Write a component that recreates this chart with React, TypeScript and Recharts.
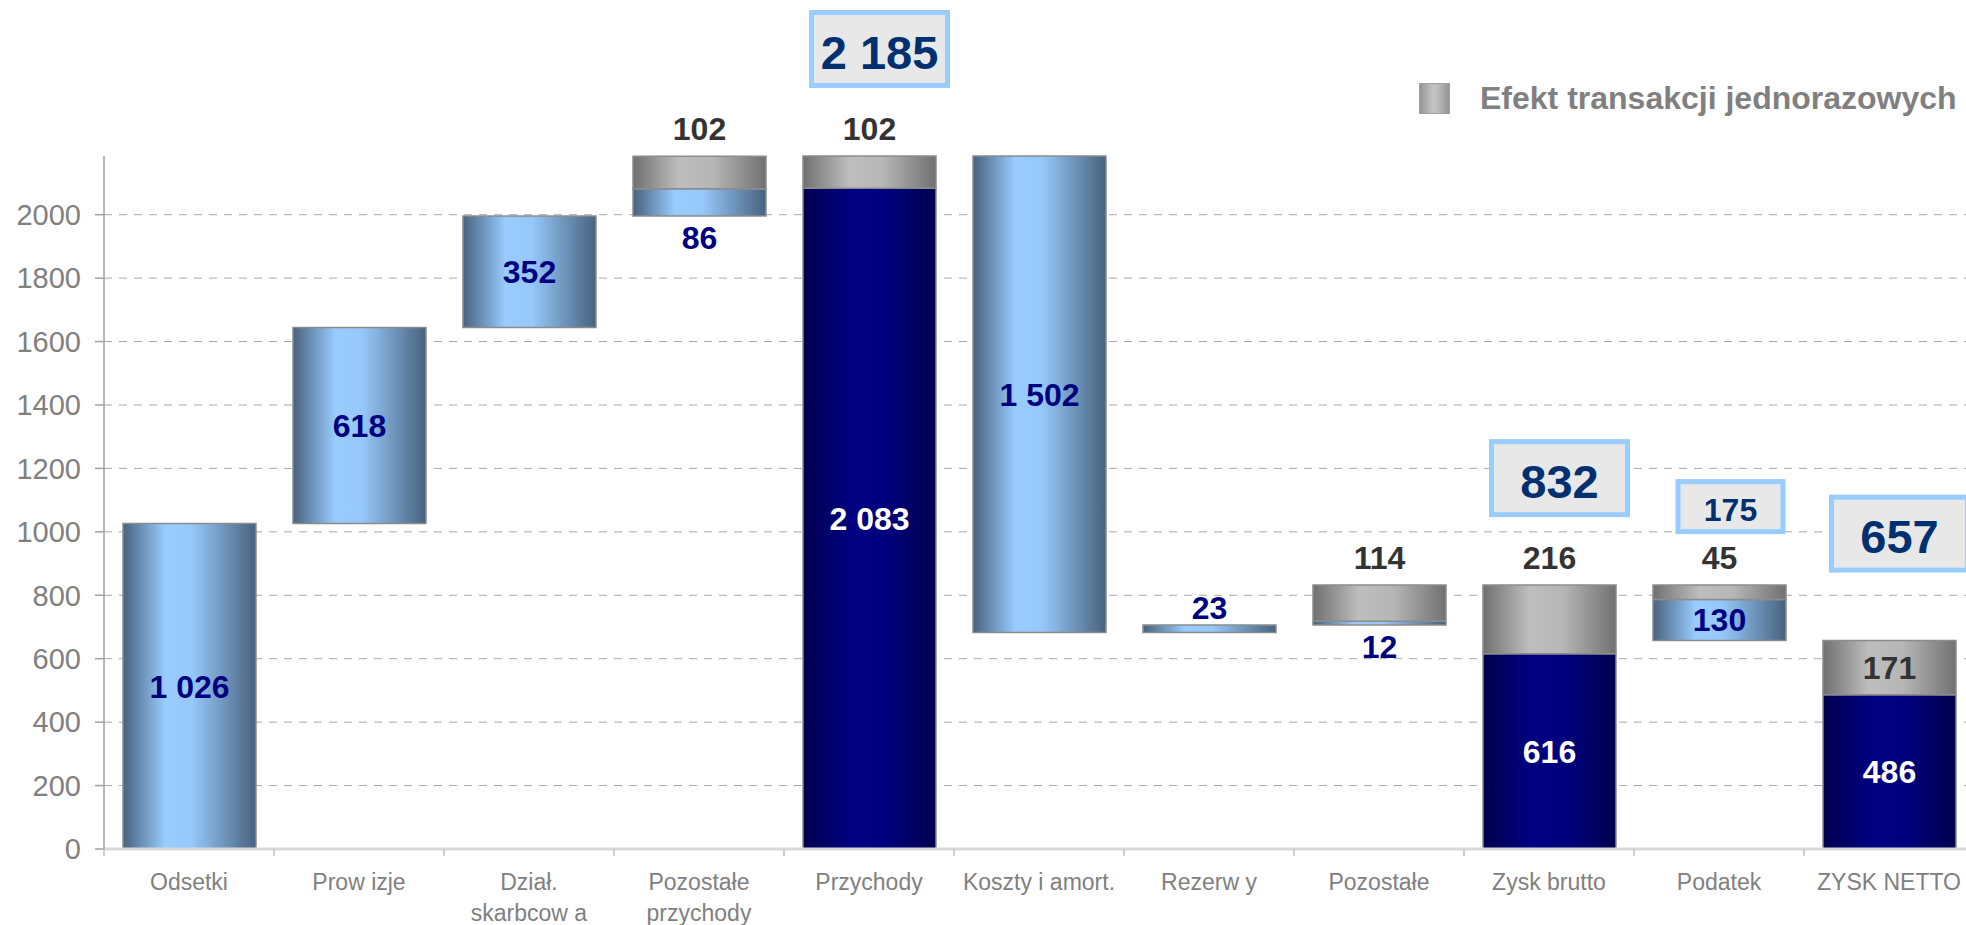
import React from "react";
import { BarChart, Bar, XAxis, YAxis, CartesianGrid, LabelList, Legend } from "recharts";

const categories = [
  "Odsetki",
  "Prow izje",
  "Dział.\nskarbcow a",
  "Pozostałe\nprzychody",
  "Przychody",
  "Koszty i amort.",
  "Rezerw y",
  "Pozostałe",
  "Zysk brutto",
  "Podatek",
  "ZYSK NETTO",
];
const baseValues = [0, 1026, 1644, 1996, 0, 683, 683, 706, 0, 657, 0];
const blueValues = [1026, 618, 352, 86, 0, 1502, 23, 12, 0, 130, 0];
const navyValues = [0, 0, 0, 0, 2083, 0, 0, 0, 616, 0, 486];
const grayValues = [0, 0, 0, 102, 102, 0, 0, 114, 216, 45, 171];
const totalValues = [null, null, null, null, 2185, null, null, null, 832, 175, 657];
const yTicks = [0, 200, 400, 600, 800, 1000, 1200, 1400, 1600, 1800, 2000];
const legendLabel = "Efekt transakcji jednorazowych";

const data = categories.map((c, i) => ({
  name: c,
  base: baseValues[i],
  blue: blueValues[i],
  navy: navyValues[i],
  gray: grayValues[i],
  total: totalValues[i],
}));

const FONT = "'Liberation Sans', Arial, Helvetica, sans-serif";
const CHART_W = 1990;
const CHART_H = 925;
const MARGIN = { top: 156, right: 16, bottom: 0, left: 0 };
const Y_W = 104;
const CAT_W = (CHART_W - MARGIN.right - Y_W) / categories.length;
const GRAY_INSIDE = new Set(["ZYSK NETTO"]);
const SMALL_BOX = new Set(["Podatek"]);

const fmt = (v: number) => String(v).replace(/\B(?=(\d{3})+(?!\d))/g, " ");

function rectOf(p: any) {
  const vb = p.viewBox && p.viewBox.width !== undefined ? p.viewBox : p;
  const x = Number(vb.x), y = Number(vb.y), w = Number(vb.width), h = Number(vb.height);
  return { x, top: Math.min(y, y + h), w, h: Math.abs(h) };
}

// category index recovered from the bar's band position (LabelList indices skip empty bars)
function catIndex(p: any, r: { x: number; w: number }) {
  const name = p?.payload?.name;
  if (name !== undefined) {
    const i = categories.indexOf(name);
    if (i >= 0) return i;
  }
  return Math.floor((r.x + r.w / 2 - Y_W) / CAT_W);
}

const blueLabel = (p: any) => {
  const v = Number(p.value);
  if (!v) return null;
  const r = rectOf(p);
  const idx = catIndex(p, r);
  const cx = r.x + r.w / 2;
  let y: number;
  if (r.h >= 30) y = r.top + r.h / 2 + 0.358 * 32;
  else if (grayValues[idx] > 0) y = r.top + r.h + 33;
  else y = r.top - 6;
  return (
    <text x={cx} y={y} textAnchor="middle" fill="#000080" fontSize={32} fontWeight="bold" fontFamily={FONT}>
      {fmt(v)}
    </text>
  );
};

const navyLabel = (p: any) => {
  const v = Number(p.value);
  if (!v) return null;
  const r = rectOf(p);
  return (
    <text x={r.x + r.w / 2} y={r.top + r.h / 2 + 0.358 * 32} textAnchor="middle" fill="#FFFFFF" fontSize={32} fontWeight="bold" fontFamily={FONT}>
      {fmt(v)}
    </text>
  );
};

const grayLabel = (p: any) => {
  const v = Number(p.value);
  if (!v) return null;
  const r = rectOf(p);
  const idx = catIndex(p, r);
  const inside = GRAY_INSIDE.has(categories[idx]);
  const y = inside ? r.top + r.h / 2 + 0.358 * 32 : r.top - 16;
  return (
    <text x={r.x + r.w / 2} y={y} textAnchor="middle" fill="#333333" fontSize={32} fontWeight="bold" fontFamily={FONT}>
      {fmt(v)}
    </text>
  );
};

const totalBox = (p: any) => {
  const v = p.value;
  if (v === null || v === undefined || v === "") return null;
  const r = rectOf(p);
  const idx = catIndex(p, r);
  const small = SMALL_BOX.has(categories[idx]);
  const bw = small ? 110 : 141;
  const bh = small ? 55 : 78;
  const gap = small ? 51 : 68;
  const fs = small ? 32 : 47;
  const cx = r.x + r.w / 2 + (small ? 11 : 10);
  const bottom = r.top - gap;
  const top = bottom - bh;
  return (
    <g>
      <rect x={cx - bw / 2 + 2.5} y={top + 2.5} width={bw - 5} height={bh - 5} fill="#E8E8E8" stroke="#99CCFF" strokeWidth={5} />
      <text x={cx} y={top + bh / 2 + 0.358 * fs + 3} textAnchor="middle" fill="#003070" fontSize={fs} fontWeight="bold" fontFamily={FONT}>
        {fmt(Number(v))}
      </text>
    </g>
  );
};

const XTick = (p: any) => {
  const { x, y, payload } = p;
  const lines = String(payload.value).split("\n");
  const axisY = y - 6;
  return (
    <g>
      <line x1={x - CAT_W / 2} x2={x - CAT_W / 2} y1={axisY} y2={axisY + 7} stroke="#BFBFBF" strokeWidth={1.5} />
      {lines.map((l, i) => (
        <text key={i} x={x} y={axisY + 41 + i * 31} textAnchor="middle" fill="#808080" fontSize={23} fontFamily={FONT}>
          {l}
        </text>
      ))}
    </g>
  );
};

const LegendContent = () => (
  <div style={{ display: "flex", alignItems: "center", fontFamily: FONT }}>
    <div
      style={{
        width: 31,
        height: 31,
        boxSizing: "border-box",
        border: "1px solid #A0A0A0",
        background: "linear-gradient(to right, #959595, #C4C4C4 45%, #BDBDBD 60%, #959595)",
      }}
    />
    <span style={{ marginLeft: 30, fontSize: 32, fontWeight: "bold", color: "#808080", lineHeight: "36px", whiteSpace: "nowrap" }}>
      {legendLabel}
    </span>
  </div>
);

export default function App() {
  return (
    <div style={{ position: "fixed", left: 0, top: 0, width: 1966, height: 925, overflow: "hidden", background: "#FFFFFF" }}>
      <BarChart width={CHART_W} height={CHART_H} data={data} margin={MARGIN} barSize={133}>
        <defs>
          <linearGradient id="gBlue" x1="0" y1="0" x2="1" y2="0">
            <stop offset="0%" stopColor="#48627E" />
            <stop offset="32%" stopColor="#99CCFF" />
            <stop offset="52%" stopColor="#96C8FA" />
            <stop offset="100%" stopColor="#48627E" />
          </linearGradient>
          <linearGradient id="gNavy" x1="0" y1="0" x2="1" y2="0">
            <stop offset="0%" stopColor="#00004E" />
            <stop offset="38%" stopColor="#000082" />
            <stop offset="62%" stopColor="#00007E" />
            <stop offset="100%" stopColor="#00004E" />
          </linearGradient>
          <linearGradient id="gGray" x1="0" y1="0" x2="1" y2="0">
            <stop offset="0%" stopColor="#707070" />
            <stop offset="35%" stopColor="#BEBEBE" />
            <stop offset="60%" stopColor="#B6B6B6" />
            <stop offset="100%" stopColor="#717171" />
          </linearGradient>
        </defs>
        <CartesianGrid
          vertical={false}
          horizontalValues={yTicks.filter((t) => t > 0)}
          stroke="#A8A8A8"
          strokeDasharray="8 7"
        />
        <XAxis
          dataKey="name"
          interval={0}
          height={76}
          tickSize={6}
          tickMargin={0}
          tickLine={false}
          axisLine={{ stroke: "#D9D9D9", strokeWidth: 3 }}
          tick={<XTick />}
        />
        <YAxis
          width={Y_W}
          domain={[0, 2185]}
          ticks={yTicks}
          interval={0}
          tickSize={9}
          tickMargin={14}
          axisLine={{ stroke: "#A0A0A0", strokeWidth: 1.5 }}
          tickLine={{ stroke: "#A0A0A0", strokeWidth: 1.5 }}
          tick={{ fill: "#808080", fontSize: 29, fontFamily: FONT }}
        />
        <Legend
          layout="vertical"
          verticalAlign="middle"
          align="center"
          wrapperStyle={{ left: 1419, top: 80, width: 560 }}
          content={<LegendContent />}
        />
        <Bar dataKey="base" stackId="a" fill="transparent" stroke="none" isAnimationActive={false} legendType="none" />
        <Bar dataKey="blue" stackId="a" fill="url(#gBlue)" stroke="#8C8C8C" strokeWidth={1.5} isAnimationActive={false}>
          <LabelList dataKey="blue" content={blueLabel} />
        </Bar>
        <Bar dataKey="navy" stackId="a" fill="url(#gNavy)" stroke="#8C8C8C" strokeWidth={1.5} isAnimationActive={false}>
          <LabelList dataKey="navy" content={navyLabel} />
        </Bar>
        <Bar dataKey="gray" name={legendLabel} stackId="a" fill="url(#gGray)" stroke="#8C8C8C" strokeWidth={1.5} isAnimationActive={false}>
          <LabelList dataKey="gray" content={grayLabel} />
          <LabelList dataKey="total" content={totalBox} />
        </Bar>
      </BarChart>
    </div>
  );
}
